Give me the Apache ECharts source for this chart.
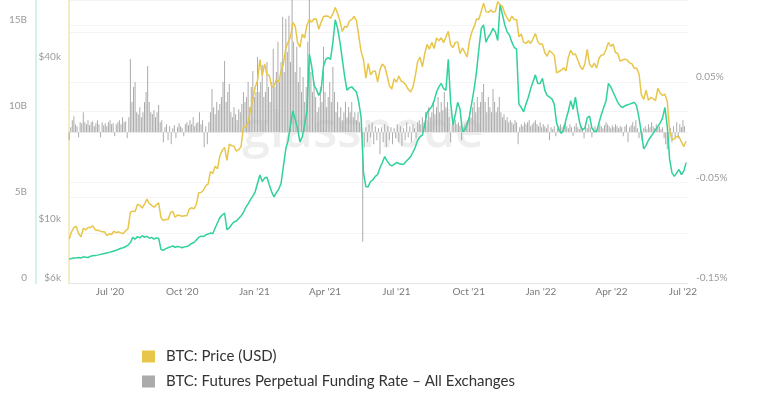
<!DOCTYPE html>
<html><head><meta charset="utf-8">
<script src="https://cdn.jsdelivr.net/npm/echarts@6/dist/echarts.min.js"></script>
<style>html,body{margin:0;padding:0;background:#fff}#c{width:763px;height:394px}</style>
</head><body><div id="c"></div>
<script>
// ---- data ----
const startDate = '2020-05-10';
const lineStepDays = 3;      // sampling of price / open interest
const fundingStepDays = 2;   // sampling of funding rate
const xTickDates = ['2020-07-01','2020-10-01','2021-01-01','2021-04-01','2021-07-01','2021-10-01','2022-01-01','2022-04-01','2022-07-01'];
const xTickLabels = ["Jul '20","Oct '20","Jan '21","Apr '21","Jul '21","Oct '21","Jan '22","Apr '22","Jul '22"];
const priceTicks = [6000, 10000, 40000];
const priceTickLabels = ['$6k', '$10k', '$40k'];
const seriesNames = ['BTC: Price (USD)', 'BTC: Futures Perpetual Funding Rate – All Exchanges', 'BTC: Futures Open Interest'];

const priceUSD = [
8750,9300,9650,9750,9170,8900,9580,9450,9660,9650,
9780,9470,9430,9380,9300,9300,9000,9140,9090,9340,
9230,9300,9200,9170,9390,9550,11000,11100,11070,11750,
11670,11400,11780,12300,11850,11680,11480,11710,11920,10500,
10250,10340,10330,10950,11080,10530,10730,10700,10620,10670,
10670,11300,11430,11320,11750,12990,13030,13270,13800,14000,
15580,15330,16300,15960,17800,18680,19170,17150,19700,19450,
19360,18550,18800,19270,22800,22800,23730,26300,28900,32100,
34000,40600,35500,39200,35800,35500,32100,32400,34300,33500,
36900,39200,44800,47200,49200,55900,54100,47000,45200,50500,
48900,54800,57300,56000,57700,57400,52700,55900,58800,59000,
58900,58000,60200,63500,60300,56500,51700,54000,53600,56600,
57200,58800,56700,49700,43500,40600,34700,39300,35700,36700,
36900,33600,37300,39100,38300,35500,32500,31600,34500,33500,
35300,33800,33500,32700,31500,30800,32100,35400,39900,41500,
38200,42800,46300,44400,47100,44700,48900,47700,49000,47000,
49300,51800,46100,45100,47100,47300,42800,44900,43200,41600,
47700,51500,54000,57500,57400,61500,65900,61300,60900,62200,
61000,61400,66800,64900,64200,60300,58100,56300,59000,57300,
57200,49400,50600,47100,46700,47700,46700,48600,50800,47500,
46300,46400,43100,41800,43900,43100,42200,36300,36700,37100,
37900,36900,41500,44000,42400,42600,40500,38400,37300,39100,
44400,39100,38000,39400,37800,41100,42200,42400,44300,47100,
45500,46400,43200,42800,40100,40500,40800,40500,39500,39200,
37700,37700,36000,30100,28900,31300,28700,29400,29100,28600,
31800,30500,29900,30200,28400,22100,20500,20600,21100,21000,
20100,19300,20200
];

// billions of USD
const openInterestBn = [
1.4,1.42,1.45,1.46,1.48,1.45,1.52,1.5,1.48,1.55,
1.58,1.6,1.62,1.65,1.68,1.72,1.75,1.78,1.82,1.86,
1.9,1.96,2.02,2.05,2.12,2.2,2.35,2.65,2.55,2.7,
2.62,2.75,2.65,2.72,2.6,2.65,2.55,2.62,2.6,1.95,
1.9,2.0,2.05,2.1,2.15,2.08,2.12,2.1,2.05,2.1,
2.12,2.2,2.3,2.35,2.5,2.65,2.72,2.7,2.8,2.85,
2.9,2.88,3.2,3.5,3.8,3.95,4.07,3.1,3.2,3.4,
3.55,3.6,3.75,3.9,4.1,4.4,4.6,4.85,5.05,5.3,
5.8,6.28,5.9,6.1,6.15,5.7,5.3,5.0,5.25,5.45,
5.8,6.8,7.8,8.3,9.2,10.0,9.5,9.0,8.2,8.5,
9.2,10.0,13.3,12.6,11.5,11.25,10.9,11.2,12.6,13.0,
13.1,13.0,14.0,15.3,14.8,14.0,13.0,12.0,11.2,11.35,
11.4,11.25,11.1,10.5,9.6,6.4,5.6,5.6,5.9,6.0,
6.2,6.3,6.7,7.0,7.35,7.1,6.9,6.8,6.9,7.0,
6.95,6.9,6.9,7.05,7.2,7.35,7.6,7.9,8.3,8.5,
8.6,9.2,9.9,10.1,10.25,10.6,11.1,11.4,11.6,11.3,
11.2,13.0,10.5,9.2,9.8,10.5,10.1,8.8,8.9,9.2,
9.7,10.5,11.3,12.3,13.6,14.8,15.0,14.0,14.3,14.5,
14.8,14.6,14.1,16.2,15.6,15.0,14.6,14.4,14.0,13.7,
13.6,10.4,10.2,9.95,10.4,10.8,11.3,11.7,12.1,11.6,
11.6,11.9,11.2,10.9,10.8,10.7,10.4,9.3,8.9,8.7,
8.9,9.5,10.0,10.6,10.1,10.8,9.9,9.2,8.9,9.0,
9.6,9.7,9.0,8.8,8.8,9.3,9.8,10.2,10.6,11.6,
11.4,11.1,10.8,10.5,10.3,10.2,10.3,10.35,10.4,10.45,
10.5,10.3,9.6,8.7,7.8,8.0,8.3,8.5,8.7,8.9,
9.1,9.3,9.6,10.2,9.1,7.2,6.4,6.2,6.4,6.6,
6.3,6.5,7.0
];

// percent
const fundingRatePct = [
-0.008,0.005,0.012,0.016,0.008,0.006,-0.005,0.01,0.009,0.02,
0.01,0.008,0.012,0.007,0.01,0.011,0.006,0.009,0.012,0.008,
-0.005,0.01,0.007,0.009,0.006,0.01,0.012,0.008,0.009,-0.004,
0.008,0.01,0.012,0.008,0.015,0.01,0.011,-0.006,0.015,0.073,
0.03,0.045,0.05,0.02,0.018,0.025,0.015,0.02,0.03,0.04,
0.066,0.03,0.02,0.018,0.022,0.015,0.02,0.027,0.01,0.012,
-0.01,0.005,0.008,-0.008,0.006,-0.012,0.004,0.007,-0.006,0.005,
0.009,0.006,0.004,-0.004,0.008,0.01,0.007,0.012,0.008,0.015,
0.006,0.009,0.01,0.02,0.008,0.012,-0.015,0.006,-0.012,0.01,
0.02,0.043,0.025,0.018,0.03,0.022,0.028,0.035,0.05,0.071,
0.03,0.04,0.048,0.02,0.015,0.025,0.018,0.012,0.023,0.02,
0.028,0.04,0.03,0.035,0.05,0.025,0.045,0.061,0.035,0.04,
0.075,0.04,0.05,0.067,0.035,0.04,0.07,0.045,0.03,0.05,
0.083,0.045,0.06,0.09,0.05,0.07,0.115,0.06,0.113,0.08,
0.116,0.07,0.135,0.09,0.06,0.085,0.05,0.065,0.04,0.055,
0.03,0.045,0.09,0.132,0.06,0.04,0.05,0.035,0.02,0.025,
0.045,0.03,0.085,0.04,0.025,0.035,0.05,0.03,0.065,0.04,
0.02,0.03,0.015,0.025,0.012,0.02,0.03,0.015,0.025,0.02,
0.03,0.015,0.02,0.012,0.02,0.01,0.005,-0.109,-0.015,0.005,
-0.01,0.008,-0.005,0.01,-0.012,0.006,-0.008,0.004,-0.022,0.005,
-0.01,0.008,-0.015,0.006,-0.008,0.005,-0.012,0.004,-0.006,0.008,
-0.01,0.006,-0.014,0.004,-0.008,0.01,-0.005,0.006,-0.01,0.008,
0.004,-0.006,0.01,0.012,0.008,0.015,0.01,0.02,0.012,0.025,
0.015,0.02,0.03,0.018,0.025,0.035,0.02,0.03,0.022,0.04,
0.025,0.03,0.015,-0.01,0.008,0.01,0.012,0.008,0.01,0.006,
-0.008,0.005,0.008,0.01,0.012,0.02,0.015,0.025,0.03,0.02,
0.035,0.025,0.03,0.04,0.048,0.03,0.02,0.035,0.025,0.02,
0.043,0.03,0.02,0.025,0.035,0.02,0.015,0.018,0.012,0.015,
0.01,0.012,0.01,0.008,0.012,0.01,-0.012,0.005,0.008,0.006,
0.01,0.008,0.01,0.012,0.006,0.008,0.01,0.012,0.008,0.006,
0.01,0.005,0.008,0.006,0.004,0.008,-0.008,0.005,0.003,0.006,
-0.004,0.004,0.006,0.008,0.005,0.007,0.01,0.006,0.004,0.008,
0.005,-0.004,0.006,0.009,0.005,0.003,0.007,0.004,-0.006,0.006,
0.004,0.008,0.005,-0.005,0.004,0.006,0.003,0.005,0.008,0.006,
0.004,0.007,0.01,0.008,0.006,0.004,0.007,0.005,0.008,0.006,
0.004,0.006,0.005,-0.004,0.006,0.008,-0.01,0.005,0.007,0.01,
0.006,0.012,0.004,-0.006,0.005,-0.008,0.004,0.006,0.003,0.008,
0.005,0.01,0.006,0.004,0.008,0.005,0.006,0.003,0.005,-0.006,
-0.012,-0.017,-0.008,0.004,-0.01,0.006,-0.005,0.01,-0.006,0.008,
0.005,0.012,0.006
];

// ---- build ----
const DAY = 86400000;
const t0 = Date.parse(startDate + 'T00:00:00Z');
const pairs = (arr, step) => arr.map((v, k) => [t0 + k * step * DAY, v]);
const priceData = pairs(priceUSD, lineStepDays);
const oiData = pairs(openInterestBn.map(v => v * 1e9), lineStepDays);
const fundingData = pairs(fundingRatePct, fundingStepDays);
const xTickTimes = xTickDates.map(d => Date.parse(d + 'T00:00:00Z'));

const chart = echarts.init(document.getElementById('c'), null, {renderer: 'canvas'});
const labelFont = {fontFamily: 'Lato, sans-serif', fontSize: 10, color: '#9a9a9a'};

chart.setOption({
  animation: false,
  backgroundColor: '#fff',
  grid: {left: 69, right: 75, top: 0, bottom: 111, containLabel: false},
  graphic: [{
    type: 'text', x: 363, y: 133, z: 0, silent: true,
    style: {text: 'glassnode', fontSize: 50, fontWeight: 600, fontFamily: 'Open Sans, sans-serif',
            fill: '#eeeeee', align: 'center', verticalAlign: 'middle'}
  }],
  legend: {
    orient: 'vertical', left: 142, top: 349, padding: 0,
    itemWidth: 13, itemHeight: 12, itemGap: 10, icon: 'rect',
    data: [seriesNames[0], seriesNames[1]],
    textStyle: {fontFamily: 'Lato, sans-serif', fontSize: 15, color: '#333', lineHeight: 13, padding: [0, 0, 0, 6]}
  },
  xAxis: {
    type: 'value',   // time stamps in ms
    min: Date.UTC(2020, 4, 9, 19), max: Date.UTC(2022, 6, 7, 10),
    axisLine: {show: true, lineStyle: {color: '#e6e6e6'}},
    axisTick: {show: false},
    splitLine: {show: false},
    axisLabel: Object.assign({}, labelFont, {
      color: '#7a7a7a', margin: 4, customValues: xTickTimes, hideOverlap: false,
      formatter: v => { const k = xTickTimes.findIndex(t => Math.abs(t - v) < DAY); return k >= 0 ? xTickLabels[k] : ''; }
    })
  },
  yAxis: [
    { // open interest
      type: 'value', position: 'left', offset: 33, min: 0, max: 16.45e9, interval: 5e9,
      axisLine: {show: true, lineStyle: {color: '#d6f1ea', width: 2}},
      axisTick: {show: false},
      splitLine: {show: true, lineStyle: {color: '#f4f4f4'}},
      axisLabel: Object.assign({}, labelFont, {
        margin: 9, verticalAlign: 'bottom', showMaxLabel: false,
        formatter: v => v === 0 ? '0' : Math.round(v / 1e9) + 'B'
      })
    },
    { // price (log)
      type: 'log', position: 'left', offset: 0, min: 6000, max: 67700, logBase: 10,
      axisLine: {show: true, lineStyle: {color: '#f5ecc4', width: 2}},
      axisTick: {show: false},
      splitLine: {show: false},
      axisLabel: Object.assign({}, labelFont, {
        margin: 8, verticalAlign: 'bottom', customValues: priceTicks,
        formatter: v => { const k = priceTicks.findIndex(p => Math.abs(p - v) < 1); return k >= 0 ? priceTickLabels[k] : ''; }
      })
    },
    { // funding rate
      type: 'value', position: 'right', min: -0.15, max: 0.1316, interval: 0.05,
      axisLine: {show: false}, axisTick: {show: false},
      splitLine: {show: true, lineStyle: {color: '#f4f4f4'}},
      axisLabel: Object.assign({}, labelFont, {
        margin: 8, verticalAlign: 'bottom', showMaxLabel: false,
        formatter: v => { const r = Math.round(v * 100); return (r === -15 || r === -5 || r === 5) ? v.toFixed(2) + '%' : ''; }
      })
    }
  ],
  series: [
    {
      name: seriesNames[1], type: 'bar', xAxisIndex: 0, yAxisIndex: 2,
      data: fundingData, barWidth: 1, itemStyle: {color: '#ababab'}, z: 2, large: false
    },
    {
      name: seriesNames[2], type: 'line', yAxisIndex: 0, data: oiData,
      showSymbol: false, lineStyle: {color: '#2fd19c', width: 1.5}, itemStyle: {color: '#2fd19c'}, z: 3
    },
    {
      name: seriesNames[0], type: 'line', yAxisIndex: 1, data: priceData,
      showSymbol: false, lineStyle: {color: '#e8c64a', width: 1.5}, itemStyle: {color: '#e8c64a'}, z: 4
    }
  ]
});
</script></body></html>
